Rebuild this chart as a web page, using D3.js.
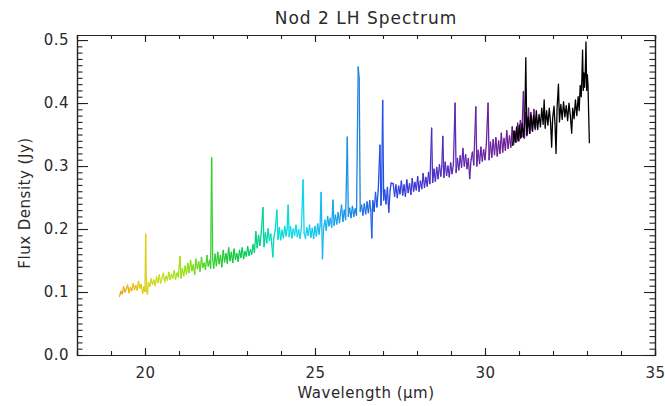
<!DOCTYPE html>
<html>
<head>
<meta charset="utf-8">
<script src="https://cdn.jsdelivr.net/npm/d3@7"></script>
<style>
  html, body { margin: 0; padding: 0; background: #fff; }
  svg { display: block; }
  text { font-family: "DejaVu Sans", "Liberation Sans", sans-serif; fill: #2a2a2a; }
</style>
</head>
<body>
<svg id="chart" width="665" height="406"></svg>
<script>
// ---------------- DATA ----------------
const titleText = "Nod 2 LH Spectrum";
const xLabelText = "Wavelength (\u03bcm)";
const yLabelText = "Flux Density (Jy)";

const xTicks = [20, 25, 30, 35];
const yTicks = [0.0, 0.1, 0.2, 0.3, 0.4, 0.5];

// Rainbow-coloured orders: [wavelength (µm), flux density (Jy)]
const spectrumMain = [
  [19.25,0.093],[19.29,0.101],[19.33,0.097],[19.37,0.108],[19.41,0.100],[19.45,0.105],
  [19.49,0.111],[19.53,0.099],[19.57,0.107],[19.61,0.102],[19.65,0.113],[19.69,0.104],
  [19.73,0.110],[19.77,0.103],[19.81,0.117],[19.85,0.106],[19.89,0.112],[19.93,0.098],
  [19.97,0.108],[20.00,0.101],[20.02,0.192],[20.04,0.104],[20.07,0.097],[20.10,0.115],
  [20.14,0.109],[20.18,0.121],[20.22,0.112],[20.26,0.119],[20.30,0.110],[20.34,0.124],
  [20.38,0.115],[20.42,0.127],[20.46,0.114],[20.50,0.122],[20.54,0.130],[20.58,0.116],
  [20.62,0.125],[20.66,0.119],[20.70,0.131],[20.74,0.120],[20.78,0.128],[20.82,0.122],
  [20.86,0.134],[20.90,0.121],[20.94,0.130],[20.98,0.124],[21.03,0.156],[21.06,0.122],
  [21.10,0.137],[21.14,0.126],[21.18,0.141],[21.22,0.129],[21.26,0.145],[21.30,0.131],
  [21.34,0.150],[21.38,0.134],[21.42,0.143],[21.46,0.128],[21.50,0.152],[21.54,0.137],
  [21.58,0.148],[21.62,0.133],[21.66,0.155],[21.70,0.139],[21.74,0.146],[21.78,0.136],
  [21.82,0.158],[21.86,0.141],[21.90,0.150],[21.93,0.138],[21.96,0.313],[21.99,0.152],
  [22.02,0.138],[22.06,0.160],[22.10,0.142],[22.14,0.163],[22.18,0.145],[22.22,0.158],
  [22.26,0.140],[22.30,0.166],[22.34,0.148],[22.38,0.161],[22.42,0.146],[22.46,0.170],
  [22.50,0.150],[22.54,0.163],[22.58,0.147],[22.62,0.168],[22.66,0.152],[22.70,0.161],
  [22.74,0.149],[22.78,0.166],[22.82,0.155],[22.86,0.170],[22.90,0.153],[22.94,0.164],
  [22.98,0.157],[23.02,0.172],[23.06,0.158],[23.10,0.167],[23.14,0.160],[23.18,0.175],
  [23.22,0.163],[23.26,0.196],[23.30,0.170],[23.34,0.190],[23.38,0.174],[23.42,0.195],
  [23.47,0.234],[23.50,0.172],[23.54,0.194],[23.58,0.178],[23.62,0.200],[23.66,0.182],
  [23.70,0.192],[23.73,0.175],[23.76,0.156],[23.79,0.186],[23.83,0.198],[23.88,0.230],
  [23.91,0.184],[23.95,0.202],[23.99,0.183],[24.03,0.198],[24.07,0.186],[24.11,0.204],
  [24.15,0.189],[24.18,0.200],[24.21,0.238],[24.24,0.188],[24.28,0.204],[24.32,0.186],
  [24.36,0.200],[24.40,0.190],[24.44,0.206],[24.48,0.188],[24.52,0.199],[24.56,0.185],
  [24.60,0.203],[24.65,0.278],[24.68,0.194],[24.72,0.185],[24.76,0.202],[24.80,0.190],
  [24.84,0.206],[24.88,0.187],[24.92,0.201],[24.96,0.185],[25.00,0.204],[25.04,0.189],
  [25.08,0.208],[25.12,0.192],[25.15,0.205],[25.18,0.258],[25.22,0.153],[25.25,0.200],
  [25.29,0.214],[25.33,0.198],[25.37,0.220],[25.41,0.205],[25.45,0.217],[25.49,0.203],
  [25.53,0.246],[25.56,0.206],[25.60,0.222],[25.64,0.208],[25.68,0.226],[25.72,0.210],
  [25.75,0.224],[25.78,0.238],[25.82,0.212],[25.86,0.230],[25.90,0.215],[25.95,0.346],
  [25.98,0.220],[26.02,0.233],[26.06,0.218],[26.10,0.236],[26.14,0.220],[26.18,0.232],
  [26.22,0.222],[26.27,0.457],[26.30,0.440],[26.33,0.228],[26.37,0.238],[26.41,0.222],
  [26.45,0.240],[26.49,0.224],[26.53,0.243],[26.57,0.226],[26.61,0.245],[26.64,0.230],
  [26.67,0.186],[26.70,0.245],[26.74,0.228],[26.78,0.258],[26.82,0.235],[26.86,0.262],
  [26.91,0.333],[26.94,0.238],[26.96,0.260],[26.99,0.404],[27.02,0.246],[27.05,0.262],
  [27.09,0.240],[27.13,0.266],[27.17,0.227],[27.21,0.262],[27.24,0.273],[27.30,0.272],
  [27.34,0.252],[27.38,0.270],[27.42,0.250],[27.46,0.268],[27.50,0.256],[27.54,0.276],
  [27.58,0.254],[27.62,0.270],[27.66,0.252],[27.70,0.278],[27.74,0.258],[27.78,0.272],
  [27.82,0.255],[27.86,0.280],[27.90,0.260],[27.94,0.274],[27.98,0.262],[28.02,0.283],
  [28.06,0.260],[28.10,0.276],[28.14,0.264],[28.18,0.288],[28.22,0.266],[28.26,0.282],
  [28.30,0.268],[28.34,0.290],[28.38,0.272],[28.43,0.360],[28.46,0.274],[28.50,0.295],
  [28.54,0.276],[28.58,0.298],[28.62,0.280],[28.66,0.302],[28.70,0.284],[28.73,0.300],
  [28.76,0.347],[28.79,0.282],[28.83,0.306],[28.87,0.285],[28.91,0.300],[28.95,0.283],
  [28.99,0.305],[29.03,0.288],[29.07,0.302],[29.12,0.400],[29.15,0.290],[29.19,0.312],
  [29.23,0.294],[29.27,0.316],[29.31,0.298],[29.35,0.328],[29.39,0.300],[29.43,0.318],
  [29.47,0.296],[29.51,0.312],[29.55,0.280],[29.59,0.310],[29.63,0.322],[29.67,0.302],
  [29.73,0.394],[29.76,0.300],[29.80,0.325],[29.84,0.304],[29.88,0.330],[29.92,0.308],
  [29.96,0.326],[30.00,0.310],[30.04,0.335],[30.09,0.400],[30.12,0.310],[30.16,0.338],
  [30.20,0.314],[30.24,0.342],[30.28,0.318],[30.32,0.345],[30.36,0.316],[30.40,0.340],
  [30.44,0.320],[30.48,0.352],[30.52,0.322],[30.56,0.344],[30.60,0.325],[30.64,0.356],
  [30.68,0.328],[30.72,0.348],[30.76,0.330],[30.80,0.362],[30.84,0.334],[30.88,0.355],
  [30.92,0.338],[30.96,0.368],[31.00,0.340],[31.04,0.372],[31.08,0.346],[31.13,0.418],
  [31.16,0.344],[31.20,0.385],[31.24,0.350],[31.28,0.392],[31.32,0.352],[31.36,0.380],
  [31.40,0.355],[31.44,0.390],[31.48,0.358],[31.52,0.372]
];

// Last order, drawn in black
const spectrumLast = [
  [30.81,0.332],[30.85,0.356],[30.89,0.338],[30.93,0.362],[30.97,0.340],[31.01,0.365],
  [31.05,0.344],[31.09,0.368],[31.13,0.346],[31.17,0.372],[31.20,0.472],[31.23,0.348],
  [31.27,0.378],[31.31,0.352],[31.35,0.385],[31.39,0.356],[31.43,0.380],[31.47,0.360],
  [31.51,0.388],[31.55,0.358],[31.59,0.382],[31.63,0.362],[31.67,0.392],[31.71,0.366],
  [31.74,0.405],[31.77,0.360],[31.81,0.388],[31.85,0.365],[31.89,0.392],[31.93,0.368],
  [31.96,0.330],[31.99,0.376],[32.03,0.395],[32.06,0.365],[32.09,0.320],[32.12,0.392],
  [32.16,0.430],[32.19,0.370],[32.23,0.398],[32.27,0.374],[32.31,0.402],[32.35,0.378],
  [32.39,0.396],[32.43,0.372],[32.47,0.400],[32.51,0.380],[32.55,0.352],[32.58,0.392],
  [32.62,0.375],[32.66,0.405],[32.70,0.380],[32.74,0.410],[32.77,0.388],[32.80,0.428],
  [32.83,0.410],[32.85,0.440],[32.87,0.484],[32.89,0.420],[32.91,0.448],[32.93,0.425],
  [32.95,0.450],[32.97,0.497],[32.99,0.420],[33.01,0.445],[33.03,0.428],[33.05,0.380],
  [33.07,0.336]
];

// colour stops along wavelength (rainbow colour table)
const colourStopsWave = [19.25, 19.9, 20.5, 21.3, 21.9, 22.6, 23.3, 23.9, 24.6, 25.2, 25.8, 26.3, 26.8, 27.4, 28.2, 29.0, 29.8, 30.6, 31.5];
const colourStops = ["#f0a018","#e0cc10","#c4e020","#88e010","#3cd030","#10c838","#00d080","#00e0cc","#10d8f0","#18b8f0","#1898e8","#2080e0","#2058e8","#3040e0","#4434cc","#5a2cb8","#6626a6","#6e1e96","#6a1a88"];

// ---------------- LAYOUT ----------------
const margin = { left: 77, right: 10, top: 35, bottom: 51 };
const W = 665, H = 406;
const svg = d3.select("#chart");

const x = d3.scaleLinear().domain([18, 35]).range([margin.left, W - margin.right]);
const y = d3.scaleLinear().domain([0, 0.508]).range([H - margin.bottom, margin.top]);

const colour = d3.scaleLinear().domain(colourStopsWave).range(colourStops).interpolate(d3.interpolateRgb).clamp(true);

const fontSize = 15;

// ---------------- AXES ----------------
const xMinor = d3.range(18, 35.001, 1);
const yMinor = d3.range(0, 0.5001, 0.01);

function styleAxis(g) {
  g.select(".domain").attr("stroke", "#222").attr("stroke-width", 1.2);
  g.selectAll(".tick line").attr("stroke", "#222").attr("stroke-width", 1.1);
  g.selectAll(".tick text").attr("fill", "#2a2a2a").style("font-size", fontSize + "px")
    .style("font-family", "DejaVu Sans, sans-serif").style("letter-spacing", "0.5px");
}

// bottom
svg.append("g").attr("transform", `translate(0,${y.range()[0]})`)
  .call(d3.axisBottom(x).tickValues(xMinor).tickSize(-4).tickFormat(""))
  .call(styleAxis);
svg.append("g").attr("transform", `translate(0,${y.range()[0]})`)
  .call(d3.axisBottom(x).tickValues(xTicks).tickSizeInner(-7).tickSizeOuter(0).tickPadding(12).tickFormat(d3.format("d")))
  .call(styleAxis);
// top
svg.append("g").attr("transform", `translate(0,${y.range()[1]})`)
  .call(d3.axisTop(x).tickValues(xMinor).tickSize(-4).tickFormat(""))
  .call(styleAxis);
svg.append("g").attr("transform", `translate(0,${y.range()[1]})`)
  .call(d3.axisTop(x).tickValues(xTicks).tickSizeInner(-7).tickSizeOuter(0).tickFormat(""))
  .call(styleAxis);
// left
svg.append("g").attr("transform", `translate(${x.range()[0]},0)`)
  .call(d3.axisLeft(y).tickValues(yMinor).tickSize(-5.5).tickFormat(""))
  .call(styleAxis);
svg.append("g").attr("transform", `translate(${x.range()[0]},0)`)
  .call(d3.axisLeft(y).tickValues(yTicks).tickSizeInner(-11).tickSizeOuter(0).tickPadding(8).tickFormat(d3.format(".1f")))
  .call(styleAxis);
// right
svg.append("g").attr("transform", `translate(${x.range()[1]},0)`)
  .call(d3.axisRight(y).tickValues(yMinor).tickSize(-5.5).tickFormat(""))
  .call(styleAxis);
svg.append("g").attr("transform", `translate(${x.range()[1]},0)`)
  .call(d3.axisRight(y).tickValues(yTicks).tickSizeInner(-11).tickSizeOuter(0).tickFormat(""))
  .call(styleAxis);

// ---------------- SPECTRUM ----------------
const seg = d3.line().x(d => x(d[0])).y(d => y(d[1]));
const plot = svg.append("g");

plot.selectAll("path.main").data(d3.pairs(spectrumMain)).join("path")
  .attr("class", "main")
  .attr("d", d => seg(d))
  .attr("fill", "none")
  .attr("stroke", d => colour((d[0][0] + d[1][0]) / 2))
  .attr("stroke-width", 1.3)
  .attr("stroke-linecap", "round");

plot.append("path").datum(spectrumLast)
  .attr("d", seg)
  .attr("fill", "none")
  .attr("stroke", "#000")
  .attr("stroke-width", 1.3)
  .attr("stroke-linejoin", "round");

// ---------------- TITLES ----------------
const cx = (x.range()[0] + x.range()[1]) / 2;
svg.append("text").attr("x", cx).attr("y", 24).attr("text-anchor", "middle")
  .style("font-size", "17px").style("letter-spacing", "1px").text(titleText);
svg.append("text").attr("x", cx).attr("y", 398).attr("text-anchor", "middle")
  .style("font-size", fontSize + "px").style("letter-spacing", "0.5px").text(xLabelText);
svg.append("text").attr("transform", `translate(30,${(y.range()[0] + y.range()[1]) / 2 + 8}) rotate(-90)`)
  .attr("text-anchor", "middle")
  .style("font-size", fontSize + "px").style("letter-spacing", "0.5px").text(yLabelText);
</script>
</body>
</html>
